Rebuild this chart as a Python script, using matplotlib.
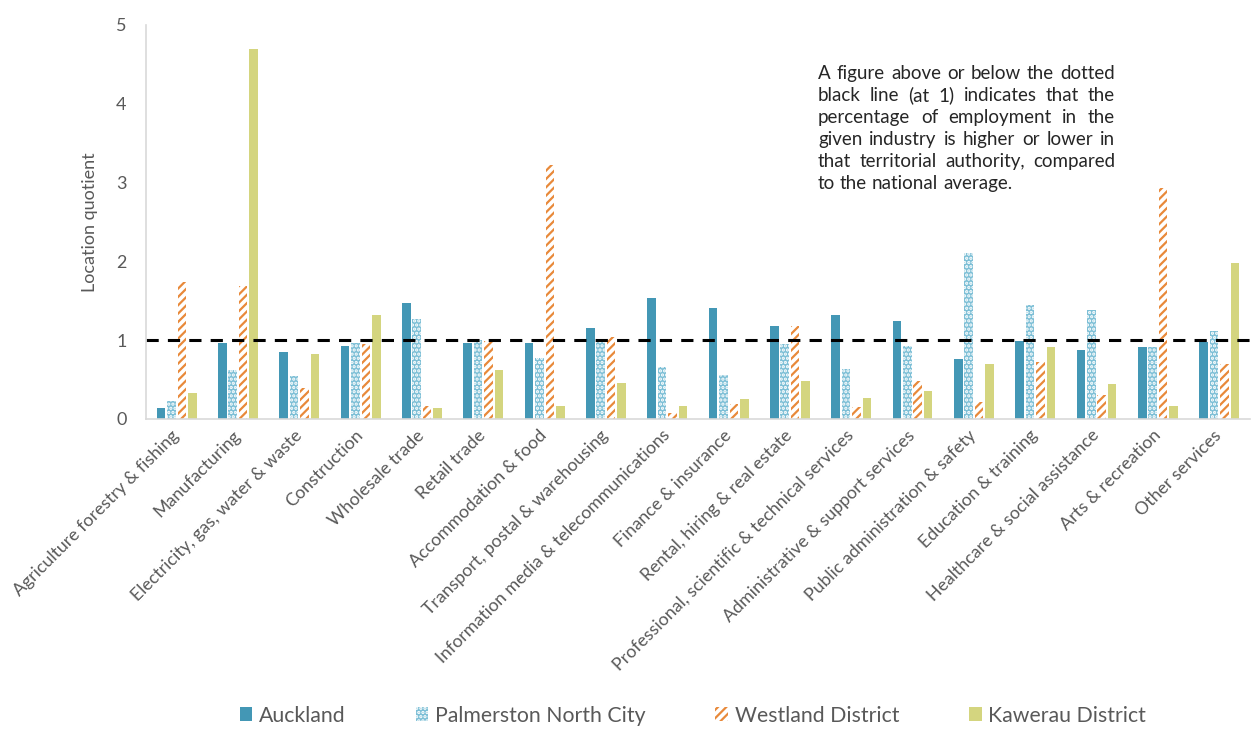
import numpy as np
import matplotlib
matplotlib.use("Agg")
import matplotlib.pyplot as plt

plt.rcParams['font.family'] = ['Lato', 'DejaVu Sans']
plt.rcParams['hatch.linewidth'] = 1.6

# data
industries = [
    "Agriculture forestry & fishing", "Manufacturing", "Electricity, gas, water & waste",
    "Construction", "Wholesale trade", "Retail trade", "Accommodation & food",
    "Transport, postal & warehousing", "Information media & telecommunications",
    "Finance & insurance", "Rental, hiring & real estate",
    "Professional, scientific & technical services", "Administrative & support services",
    "Public administration & safety", "Education & training",
    "Healthcare & social assistance", "Arts & recreation", "Other services",
]
auckland = [0.14, 0.97, 0.85, 0.93, 1.47, 0.97, 0.97, 1.16, 1.53, 1.41, 1.18, 1.32, 1.24, 0.76, 0.99, 0.87, 0.91, 0.98]
palmerston = [0.23, 0.62, 0.54, 0.97, 1.27, 1.00, 0.78, 1.00, 0.66, 0.56, 0.95, 0.64, 0.93, 2.11, 1.45, 1.38, 0.91, 1.12]
westland = [1.74, 1.69, 0.39, 0.95, 0.16, 0.99, 3.22, 1.04, 0.08, 0.19, 1.18, 0.15, 0.48, 0.21, 0.72, 0.31, 2.93, 0.70]
kawerau = [0.33, 4.69, 0.83, 1.32, 0.14, 0.62, 0.16, 0.46, 0.16, 0.25, 0.48, 0.27, 0.35, 0.70, 0.91, 0.45, 0.17, 1.98]
series_names = ["Auckland", "Palmerston North City", "Westland District", "Kawerau District"]

note_lines = [
    "A figure above or below the dotted",
    "black line (at 1) indicates that the",
    "percentage of employment in the",
    "given industry is higher or lower in",
    "that territorial authority, compared",
    "to the national average.",
]

grey = "#595959"
fig = plt.figure(figsize=(12.53, 7.33), dpi=100)
ax = fig.add_axes([0.1165, 0.4284, 0.881, 0.5375])

x = np.arange(len(industries))
w = 0.14
step = 0.17
styles = [
    dict(color="#4397B5", edgecolor="#4397B5", linewidth=0),
    dict(color="#7DBFD6", edgecolor="white", hatch="....", linewidth=0),
    dict(color="white", edgecolor="#E8893A", hatch="////", linewidth=0),
    dict(color="#D4D57F", edgecolor="#D4D57F", linewidth=0),
]
for i, (vals, name) in enumerate(zip([auckland, palmerston, westland, kawerau], series_names)):
    ax.bar(x + (i - 1.5) * step, vals, w, label=name, **styles[i])

ax.axhline(1, color="black", linestyle=(0, (4, 3)), linewidth=2.2)

ax.set_xlim(-0.5, len(industries) - 0.5)
ax.set_ylim(0, 5)
ax.set_yticks(range(6))
ax.tick_params(axis="y", length=0, labelsize=13, labelcolor=grey, pad=14)
ax.tick_params(axis="x", length=0, pad=10)
ax.set_xticks(x)
ax.set_xticklabels(industries, rotation=45, ha="right", va="center", rotation_mode="anchor",
                   fontsize=12.8, color=grey)
ax.set_ylabel("Location quotient", fontsize=13, color=grey, labelpad=13)
for s in ["top", "right"]:
    ax.spines[s].set_visible(False)
for s in ["left", "bottom"]:
    ax.spines[s].set_color("#d9d9d9")
    ax.spines[s].set_linewidth(1.2)

leg = fig.legend(loc="lower center", bbox_to_anchor=(0.553, -0.016), ncol=4, frameon=False,
                 fontsize=15.3, handlelength=0.6, handleheight=0.6, handletextpad=0.3,
                 columnspacing=3.3)
for t in leg.get_texts():
    t.set_color(grey)

# justified note text, placed word by word
fig.canvas.draw()
renderer = fig.canvas.get_renderer()
left, right = 818, 1115
top = 79
line_h = 22
fs = 13.5

def wwidth(s):
    t = fig.text(0, 0, s, fontsize=fs)
    bb = t.get_window_extent(renderer)
    t.remove()
    return bb.width

space = wwidth("a b") - wwidth("ab")
H = fig.get_figheight() * fig.dpi
W = fig.get_figwidth() * fig.dpi
for li, line in enumerate(note_lines):
    ln = line.split()
    y = H - (top + li * line_h)
    widths = [wwidth(c) for c in ln]
    if li < len(note_lines) - 1 and len(ln) > 1:
        gap = (right - left - sum(widths)) / (len(ln) - 1)
    else:
        gap = space
    xpos = left
    for wd, ww in zip(ln, widths):
        fig.text(xpos / W, y / H, wd, fontsize=fs, color="#262626", va="baseline")
        xpos += ww + gap

fig.savefig("out.png", dpi=100)
